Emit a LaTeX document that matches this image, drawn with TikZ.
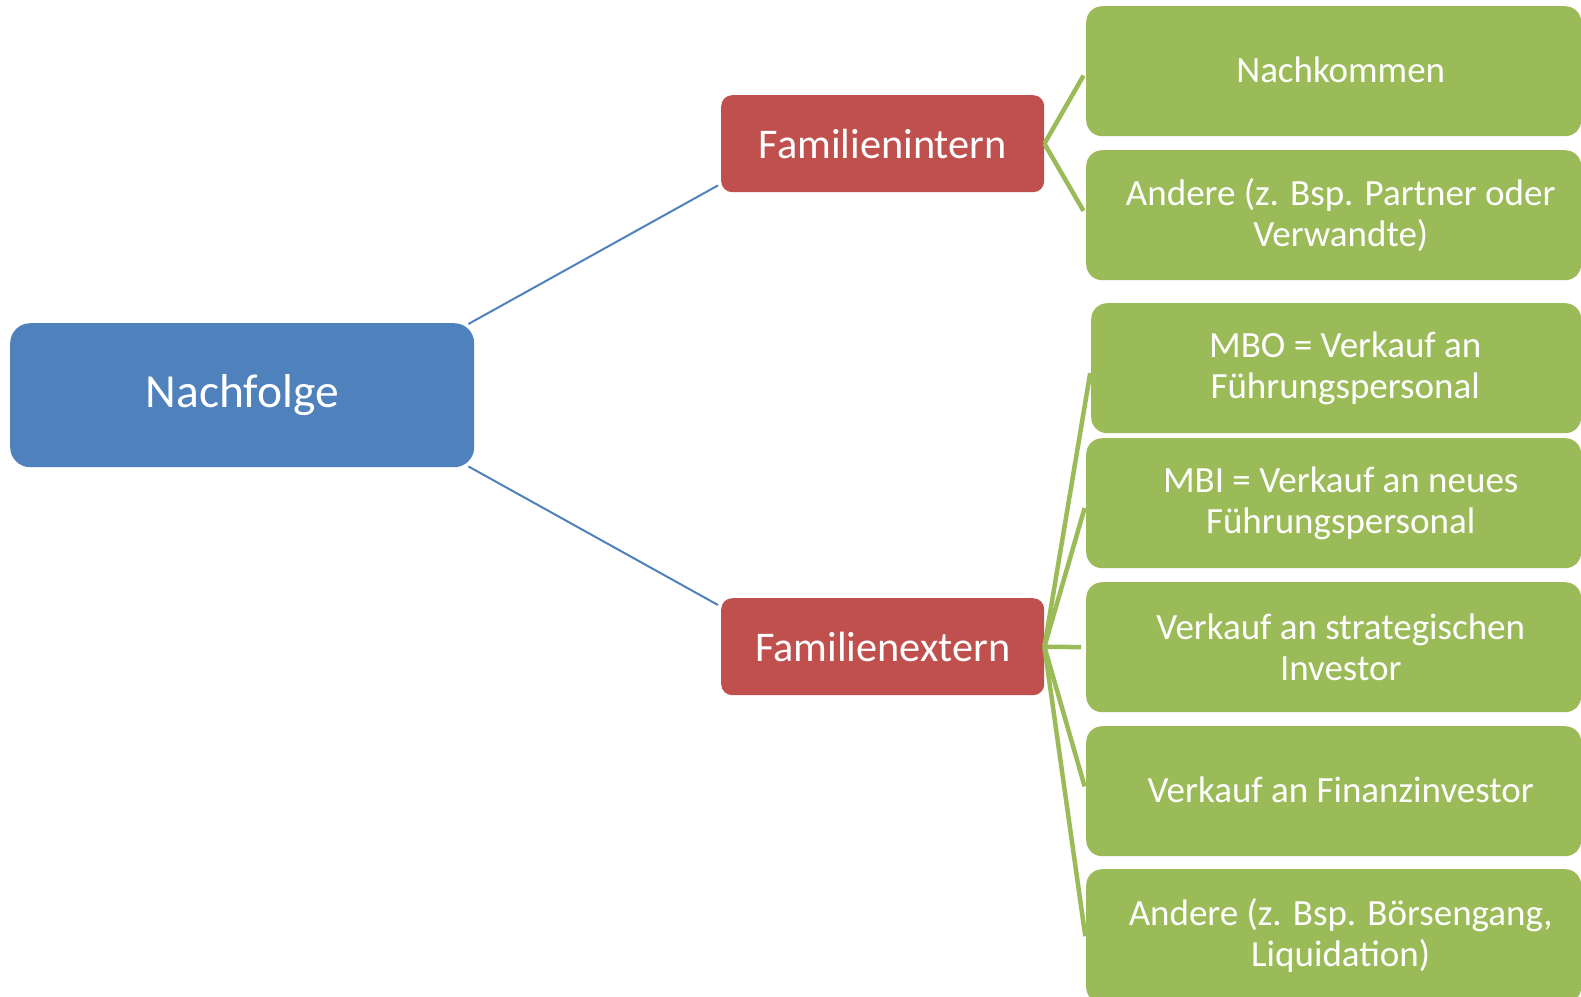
\documentclass[tikz,border=0pt]{standalone}
\usepackage{fontspec}
\setmainfont{Carlito}
\definecolor{cblue}{HTML}{4F81BD}
\definecolor{cred}{HTML}{C0504D}
\definecolor{cgreen}{HTML}{9BBB59}
\begin{document}
\begin{tikzpicture}[x=1pt,y=-1pt,
  rootbox/.style={fill=cblue,draw=none,rounded corners=20pt,anchor=north west,minimum width=464pt,minimum height=144pt,inner sep=0pt,text=white,font=\fontsize{47.5}{55}\selectfont},
  midbox/.style={fill=cred,draw=none,rounded corners=11pt,anchor=north west,minimum width=323pt,minimum height=97pt,inner sep=0pt,text=white,font=\fontsize{42.3}{49}\selectfont},
  leafbox/.style={fill=cgreen,draw=none,rounded corners=16pt,anchor=north west,minimum width=#1,minimum height=130pt,inner sep=0pt},
  leaftext/.style={text=white,align=center,inner sep=0pt,font=\fontsize{37}{40.5}\selectfont},
  bluelink/.style={draw=cblue,line width=2pt},
  greenlink/.style={draw=cgreen,line width=4.5pt,shorten >=5pt}
]
\useasboundingbox (0,0) rectangle (1581,996);

\node[rootbox] (root) at (10,323) {Nachfolge};
\node[midbox] (fi) at (721,95) {Familienintern};
\node[midbox] (fe) at (721,598) {Familienextern};

\node[leafbox=495pt] (l1) at (1086,6) {};
\node[leafbox=495pt] (l2) at (1086,150) {};
\node[leafbox=490pt] (l3) at (1091,303) {};
\node[leafbox=495pt] (l4) at (1086,438) {};
\node[leafbox=495pt] (l5) at (1086,582) {};
\node[leafbox=495pt] (l6) at (1086,726) {};
\node[leafbox=495pt,minimum height=134pt] (l7) at (1086,869) {};

\node[leaftext] (t1) at ([xshift=7pt,yshift=1pt]l1.center) {Nachkommen};
\node[leaftext] (t2) at ([xshift=7pt]l2.center) {Andere (z. Bsp. Partner oder\\Verwandte)};
\node[leaftext] (t3) at ([xshift=9pt]l3.center) {MBO = Verkauf an\\Führungspersonal};
\node[leaftext] (t4) at ([xshift=7pt]l4.center) {MBI = Verkauf an neues\\Führungspersonal};
\node[leaftext] (t5) at ([xshift=7pt]l5.center) {Verkauf an strategischen\\Investor};
\node[leaftext] (t6) at ([xshift=7pt,yshift=1pt]l6.center) {Verkauf an Finanzinvestor};
\node[leaftext] (t7) at ([xshift=7pt,yshift=1pt]l7.center) {Andere (z. Bsp. Börsengang,\\Liquidation)};

\draw[bluelink] ([xshift=-6pt,yshift=-1pt]root.north east) -- ([xshift=-3pt,yshift=7pt]fi.south west);
\draw[bluelink] ([xshift=-6pt,yshift=1pt]root.south east) -- ([xshift=-3pt,yshift=-7pt]fe.north west);

\foreach \l in {l1,l2} \draw[greenlink] (fi.east) -- (\l.west);
\foreach \l in {l3,l4,l5,l6} \draw[greenlink] (fe.east) -- (\l.west);
\draw[greenlink] (fe.east) -- ([yshift=-5pt]l7.west);
\end{tikzpicture}
\end{document}
